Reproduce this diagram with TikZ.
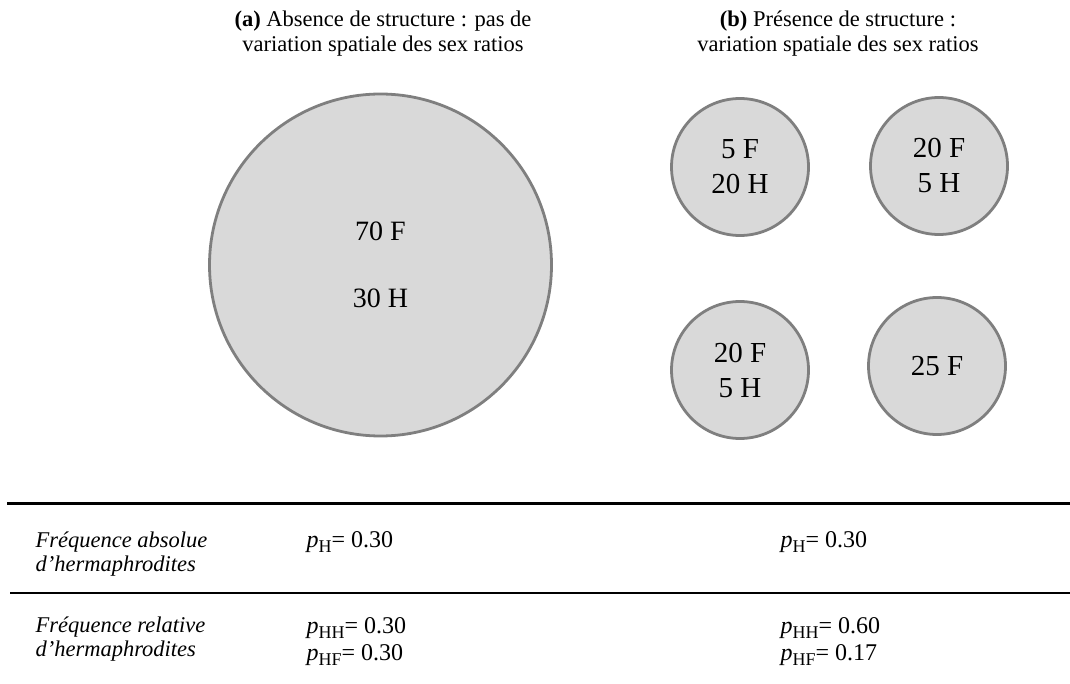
\documentclass[tikz,border=0pt]{standalone}
\usepackage{fontspec}
\setmainfont{Liberation Serif}
\newcommand\pvar[1]{\textit{p}\raisebox{-0.22em}{\fontsize{18}{18}\selectfont #1}}
\definecolor{popfill}{HTML}{D9D9D9}
\definecolor{popedge}{HTML}{7F7F7F}
\tikzset{
  pop/.style={circle, draw=popedge, line width=2.8pt, fill=popfill, inner sep=0pt,
    align=center, font=\fontsize{29}{35}\selectfont},
  title/.style={align=center, font=\fontsize{22.5}{25}\selectfont, anchor=base},
  rowlab/.style={align=left, anchor=base west, font=\fontsize{22.5}{24}\selectfont\itshape},
  val/.style={align=left, anchor=base west, font=\fontsize{24}{27}\selectfont},
  rule/.style={line width=2.6pt}
}
\begin{document}
\begin{tikzpicture}[x=1pt, y=-1pt]
\useasboundingbox (0,0) rectangle (1070,684);

% column titles (anchored on the baseline of their last line)
\node[title] (ta) at (383,52) {\textbf{(a)} Absence de structure : pas de\\variation spatiale des sex ratios};
\node[title] (tb) at (838,52) {\textbf{(b)} Présence de structure :\\variation spatiale des sex ratios};

% (a) one unstructured population
\node[pop, minimum size=342pt, font=\fontsize{28}{34}\selectfont] (big) at (380.5,265) {70 F\\[33pt]30 H};

% (b) four subpopulations
\node[pop, minimum size=137pt] (s1) at (740,167) {5 F\\20 H};
\node[pop, minimum size=137pt] (s2) at (939,166) {20 F\\5 H};
\node[pop, minimum size=137pt] (s3) at (740,370) {20 F\\5 H};
\node[pop, minimum size=137pt] (s4) at (937,366) {25 F};

% table rules
\coordinate (r1a) at (7,503.5);
\coordinate (r1b) at (1070,503.5);
\coordinate (r2a) at (10,593);
\coordinate (r2b) at (1070,593);
\draw[rule] (r1a) -- (r1b);
\draw[rule] (r2a) -- (r2b);

% table rows
\node[rowlab] (l1) at (32,571) {Fréquence absolue\\d’hermaphrodites};
\node[val] (a1) at (303,547) {\pvar{H}= 0.30};
\node[val] (b1) at (777,547) {\pvar{H}= 0.30};

\node[rowlab] (l2) at (32,656) {Fréquence relative\\d’hermaphrodites};
\node[val] (a2) at (303,660) {\pvar{HH}= 0.30\\\pvar{HF}= 0.30};
\node[val] (b2) at (777,660) {\pvar{HH}= 0.60\\\pvar{HF}= 0.17};
\end{tikzpicture}
\end{document}
